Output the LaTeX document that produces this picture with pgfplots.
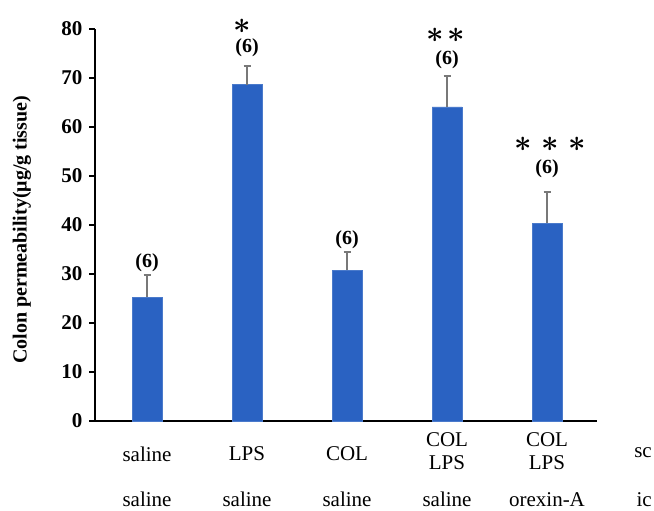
\documentclass[border=0pt]{standalone}
\usepackage{graphicx}
\usepackage{pgfplots}
\pgfplotsset{compat=1.18}
\usepackage{fontspec}
\setmainfont{Liberation Serif}
\definecolor{barblue}{RGB}{42,98,194}
\definecolor{errgray}{RGB}{120,120,120}
\newcommand{\sigstar}{\scalebox{1.22}{\fontsize{24}{24}\selectfont\boldmath$\ast$}}
\begin{document}
\begin{tikzpicture}
\useasboundingbox (0,0) rectangle (654pt,511pt);
\begin{axis}[
  at={(95pt,90pt)}, anchor=south west,
  scale only axis, width=502pt, height=392pt,
  xmin=-0.52, xmax=4.5, ymin=0, ymax=80,
  axis x line*=bottom, axis y line*=left,
  axis line style={line width=1.4pt, black},
  xtick=\empty,
  ytick={0,10,...,80},
  tick align=outside, major tick length=6pt,
  y tick style={line width=1.4pt, black},
  /pgf/number format/assume math mode=true,
  yticklabel style={font=\fontsize{21}{21}\selectfont\bfseries, xshift=-3pt},
  ybar, bar width=30pt,
  clip=false,
]
\addplot[fill=barblue, draw=barblue!85!white, line width=0.8pt,
  error bars/.cd, y dir=plus, y explicit,
  error bar style={line width=1.6pt, errgray},
  error mark options={rotate=90, mark size=3.5pt, line width=1.6pt, errgray}]
  coordinates {
  (0,25.3) +- (0,4.5)
  (1,68.6) +- (0,3.8)
  (2,30.8) +- (0,3.7)
  (3,64.1) +- (0,6.3)
  (4,40.4) +- (0,6.3)
};
% sample-size annotations
\begin{scope}[every node/.style={font=\fontsize{20}{20}\selectfont\bfseries}]
\node at (axis cs:0,32.4) {(6)};
\node at (axis cs:1,76.1) {(6)};
\node at (axis cs:2,36.9) {(6)};
\node at (axis cs:3,73.7) {(6)};
\node at (axis cs:4,51.4) {(6)};
\end{scope}
% significance stars
\begin{scope}[every node/.style={inner sep=0pt}]
\node at (axis cs:0.95,80.6) {\sigstar};
\node at (axis cs:2.88,78.8) {\sigstar};
\node at (axis cs:3.09,78.8) {\sigstar};
\node at (axis cs:3.76,56.4) {\sigstar};
\node at (axis cs:4.03,56.4) {\sigstar};
\node at (axis cs:4.30,56.4) {\sigstar};
\end{scope}
% category labels
\begin{scope}[every node/.style={font=\fontsize{21}{23}\selectfont, align=center}]
\node at (axis cs:0,-6.7) {saline};
\node at (axis cs:1,-6.7) {LPS};
\node at (axis cs:2,-6.7) {COL};
\node at (axis cs:3,-6.1) {COL\\LPS};
\node at (axis cs:4,-6.1) {COL\\LPS};
\node[anchor=east, inner xsep=0pt] at (axis cs:5.05,-6.5) {sc};
\node at (axis cs:0,-16.0) {saline};
\node at (axis cs:1,-16.0) {saline};
\node at (axis cs:2,-16.0) {saline};
\node at (axis cs:3,-16.0) {saline};
\node at (axis cs:4,-16.0) {orexin-A};
\node[anchor=east, inner xsep=0pt] at (axis cs:5.05,-16.0) {ic};
\end{scope}
\end{axis}
\node[rotate=90, font=\fontsize{20}{20}\selectfont\bfseries] at (22pt,281pt) {Colon permeability(μg/g tissue)};
\end{tikzpicture}
\end{document}
